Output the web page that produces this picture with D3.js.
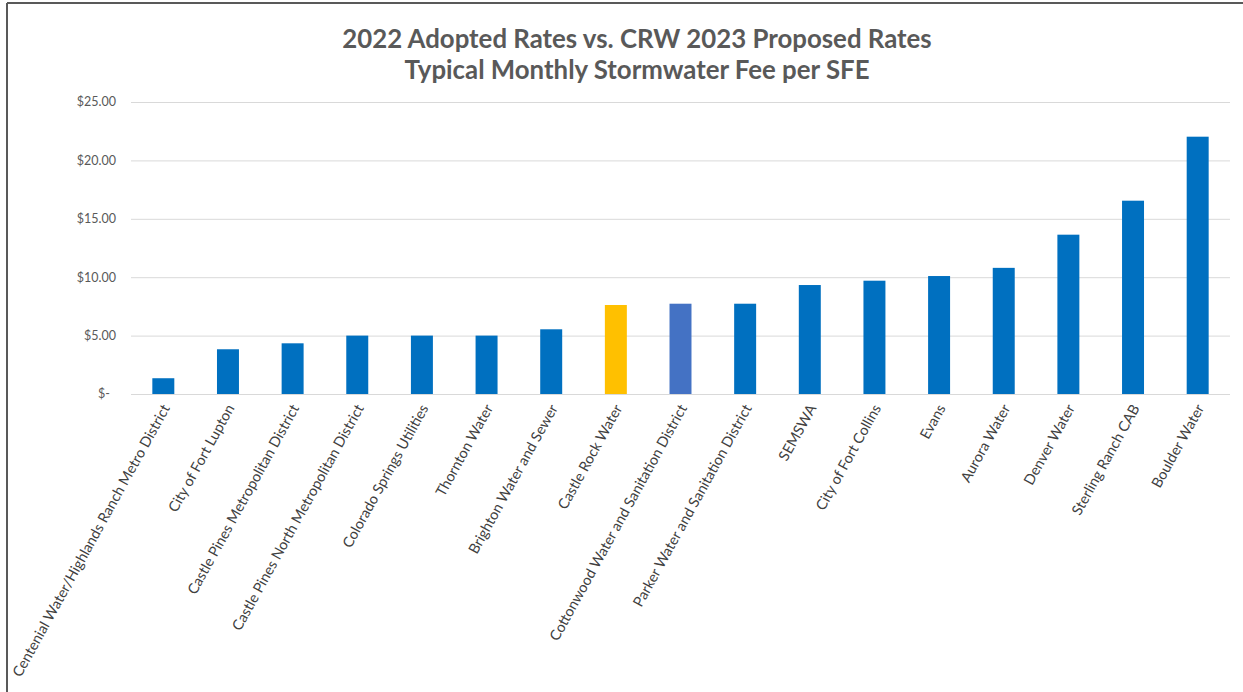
<!DOCTYPE html>
<html lang="en">
<head>
    <meta charset="UTF-8">
    <title>Typical Monthly Stormwater Fee per SFE</title>
    <script src="https://d3js.org/d3.v7.min.js"></script>
    <style>
        body { margin: 0; background: #fff; }
        svg { display: block; font-family: Lato, "Open Sans", sans-serif; }
        .grid line { stroke: #d9d9d9; stroke-width: 1px; }
        .grid .domain { display: none; }
        .ytick text { fill: #595959; font-size: 12.5px; }
        .xlab { fill: #404040; font-size: 14.5px; }
        .title { fill: #595959; font-size: 25.8px; font-weight: bold; }
    </style>
</head>
<body>
    <svg width="1243" height="692"></svg>
    <script>
        // Data
        const categories = [
            'Centenial Water/Highlands Ranch Metro District',
            'City of Fort Lupton',
            'Castle Pines Metropolitan District',
            'Castle Pines North Metropolitan District',
            'Colorado Springs Utilities',
            'Thornton Water',
            'Brighton Water and Sewer',
            'Castle Rock Water',
            'Cottonwood Water and Sanitation District',
            'Parker Water and Sanitation District',
            'SEMSWA',
            'City of Fort Collins',
            'Evans',
            'Aurora Water',
            'Denver Water',
            'Sterling Ranch CAB',
            'Boulder Water'
        ];
        const fees = [1.35, 3.83, 4.34, 5.00, 5.00, 5.00, 5.54, 7.62, 7.73, 7.73, 9.33, 9.70, 10.10, 10.80, 13.64, 16.55, 22.03];
        const yTicks = [0, 5, 10, 15, 20, 25];
        const titleLines = ['2022 Adopted Rates vs. CRW 2023 Proposed Rates', 'Typical Monthly Stormwater Fee per SFE'];
        // highlighted bars
        const barColors = { 'Castle Rock Water': '#FFC000', 'Cottonwood Water and Sanitation District': '#4472C4' };

        const svg = d3.select('svg');

        // chart frame (top and left edges visible)
        svg.append('line').attr('x1', 7).attr('x2', 1243).attr('y1', 3).attr('y2', 3)
            .attr('stroke', '#595959').attr('stroke-width', 2);
        svg.append('line').attr('x1', 7).attr('x2', 7).attr('y1', 3).attr('y2', 692)
            .attr('stroke', '#595959').attr('stroke-width', 2);

        const plotL = 131, plotR = 1230, plotT = 102, plotB = 394;

        const x = d3.scaleBand().domain(categories).range([plotL, plotR]).paddingInner(0.66).paddingOuter(0.33);
        const y = d3.scaleLinear().domain([0, 25]).range([plotB, plotT]);

        // gridlines
        svg.append('g').attr('class', 'grid')
            .attr('transform', `translate(${plotL},0)`)
            .call(d3.axisLeft(y).tickValues(yTicks).tickSize(-(plotR - plotL)).tickFormat(''));

        // y tick labels
        svg.append('g').attr('class', 'ytick')
            .selectAll('text').data(yTicks).enter().append('text')
            .attr('x', d => d === 0 ? 110 : 116)
            .attr('y', d => y(d))
            .attr('dy', '0.35em')
            .attr('text-anchor', 'end')
            .text(d => d === 0 ? '$-' : '$' + d3.format('.2f')(d));

        // bars
        svg.append('g').selectAll('rect').data(categories).enter().append('rect')
            .attr('x', d => x(d))
            .attr('width', x.bandwidth())
            .attr('y', (d, i) => y(fees[i]))
            .attr('height', (d, i) => y(0) - y(fees[i]))
            .attr('fill', d => barColors[d] || '#0070C0');

        // rotated category labels
        svg.append('g').selectAll('text').data(categories).enter().append('text')
            .attr('class', 'xlab')
            .attr('text-anchor', 'end')
            .attr('transform', d => `translate(${x(d) + x.bandwidth() / 2 + 7},${plotB + 14}) rotate(-61)`)
            .text(d => d);

        // title
        svg.append('g').selectAll('text').data(titleLines).enter().append('text')
            .attr('class', 'title')
            .attr('x', 637)
            .attr('y', (d, i) => 48 + i * 31)
            .attr('text-anchor', 'middle')
            .text(d => d);
    </script>
</body>
</html>
